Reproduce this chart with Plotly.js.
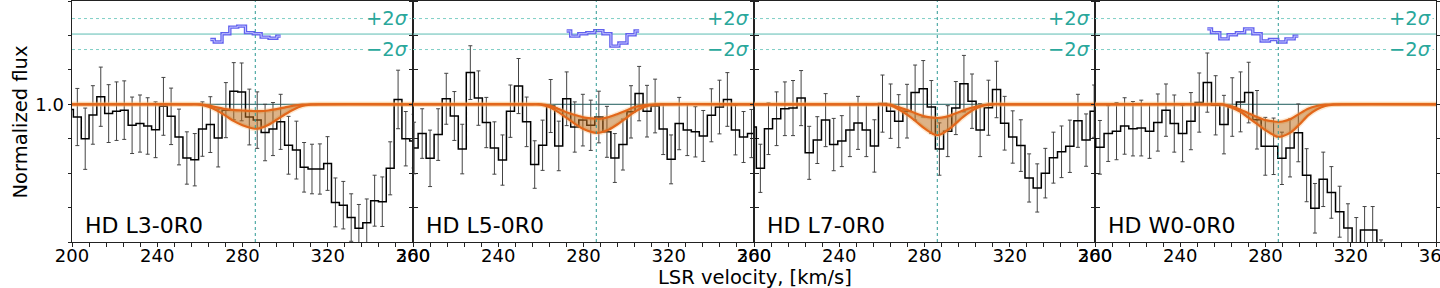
<!DOCTYPE html>
<html><head><meta charset="utf-8">
<script src="https://cdn.plot.ly/plotly-3.0.1.min.js"></script>
<style>html,body{margin:0;padding:0;background:#fff}#chart{width:1440px;height:288px}</style>
</head><body><div id="chart"></div>
<script>
// ---------------- data ----------------
const panelNames = ['HD L3-0R0', 'HD L5-0R0', 'HD L7-0R0', 'HD W0-0R0'];

const vel1 = [198.8, 202.5, 206.2, 209.8, 213.5, 217.2, 220.9, 224.5, 228.2, 231.9, 235.5, 239.2, 242.9, 246.5, 250.2, 253.9, 257.6, 261.2, 264.9, 268.6, 272.2, 275.9, 279.6, 283.2, 286.9, 290.6, 294.3, 297.9, 301.6, 305.3, 308.9, 312.6, 316.3, 319.9, 323.6, 327.3, 331.0, 334.6, 338.3, 342.0, 345.6, 349.3, 353.0, 356.6, 360.3];
const flux1 = [0.985, 0.963, 0.900, 0.969, 1.022, 0.973, 0.980, 0.983, 0.939, 0.944, 0.937, 0.926, 0.994, 0.965, 0.905, 0.844, 0.839, 0.928, 0.941, 0.902, 0.983, 1.038, 1.036, 0.963, 0.954, 0.918, 0.928, 0.949, 0.881, 0.867, 0.817, 0.812, 0.812, 0.828, 0.715, 0.707, 0.671, 0.640, 0.656, 0.720, 0.717, 0.814, 1.014, 0.900, 0.893];
const err1 = [0.083, 0.083, 0.089, 0.085, 0.086, 0.084, 0.085, 0.085, 0.082, 0.083, 0.082, 0.081, 0.084, 0.082, 0.081, 0.076, 0.076, 0.079, 0.081, 0.084, 0.080, 0.083, 0.084, 0.081, 0.082, 0.082, 0.077, 0.080, 0.084, 0.084, 0.072, 0.072, 0.073, 0.078, 0.071, 0.069, 0.069, 0.069, 0.069, 0.074, 0.072, 0.077, 0.085, 0.079, 0.078];

const vel2 = [200.5, 204.3, 208.0, 211.8, 215.6, 219.4, 223.1, 226.9, 230.7, 234.4, 238.2, 242.0, 245.7, 249.5, 253.3, 257.1, 260.8, 264.6, 268.4, 272.1, 275.9, 279.7, 283.4, 287.2, 291.0, 294.7, 298.5, 302.3, 306.1, 309.8, 313.6, 317.4, 321.1, 324.9, 328.7, 332.5, 336.2, 340.0, 343.8, 347.5, 351.3, 355.1, 358.8, 362.6];
const flux2 = [0.873, 0.915, 0.843, 0.912, 1.016, 0.966, 0.870, 1.092, 1.018, 0.947, 0.873, 0.838, 0.980, 1.053, 0.949, 0.825, 0.881, 0.995, 0.879, 1.016, 0.934, 0.954, 0.939, 0.963, 0.920, 0.844, 0.883, 0.978, 1.031, 0.980, 0.995, 0.928, 0.840, 0.944, 0.925, 0.920, 0.908, 0.968, 0.992, 1.014, 0.925, 0.905, 0.915, 0.915];
const err2 = [0.075, 0.072, 0.082, 0.075, 0.074, 0.071, 0.072, 0.078, 0.079, 0.073, 0.076, 0.073, 0.076, 0.080, 0.072, 0.069, 0.073, 0.077, 0.072, 0.078, 0.073, 0.075, 0.073, 0.075, 0.074, 0.071, 0.074, 0.076, 0.079, 0.075, 0.078, 0.074, 0.071, 0.076, 0.074, 0.073, 0.074, 0.077, 0.078, 0.078, 0.072, 0.074, 0.070, 0.072];

const vel3 = [199.2, 203.0, 206.8, 210.6, 214.5, 218.3, 222.1, 225.9, 229.7, 233.6, 237.4, 241.2, 245.0, 248.8, 252.7, 256.5, 260.3, 264.1, 267.9, 271.8, 275.6, 279.4, 283.2, 287.0, 290.9, 294.7, 298.5, 302.3, 306.1, 310.0, 313.8, 317.6, 321.4, 325.2, 329.1, 332.9, 336.7, 340.5, 344.3, 348.2, 352.0, 355.8, 359.6];
const flux3 = [0.934, 0.814, 0.929, 0.958, 0.987, 0.989, 1.018, 0.859, 0.896, 0.954, 0.883, 0.893, 0.925, 0.946, 0.925, 0.879, 1.002, 0.980, 0.951, 0.980, 1.034, 1.045, 0.992, 0.870, 0.922, 0.989, 1.060, 1.009, 0.925, 0.990, 1.043, 0.945, 0.905, 0.880, 0.786, 0.757, 0.800, 0.845, 0.862, 0.878, 0.952, 0.896, 0.980];
const err3 = [0.075, 0.070, 0.075, 0.078, 0.078, 0.080, 0.080, 0.077, 0.068, 0.077, 0.076, 0.074, 0.077, 0.077, 0.077, 0.076, 0.083, 0.079, 0.077, 0.078, 0.080, 0.082, 0.077, 0.076, 0.074, 0.077, 0.082, 0.079, 0.077, 0.080, 0.082, 0.078, 0.076, 0.075, 0.070, 0.070, 0.072, 0.074, 0.075, 0.076, 0.077, 0.076, 0.076];

const vel4 = [198.4, 202.3, 206.2, 210.1, 213.9, 217.8, 221.7, 225.6, 229.5, 233.3, 237.2, 241.1, 245.0, 248.9, 252.7, 256.6, 260.5, 264.4, 268.3, 272.1, 276.0, 279.9, 283.8, 287.7, 291.5, 295.4, 299.3, 303.2, 307.1, 310.9, 314.8, 318.7, 322.6, 326.5, 330.3, 334.2, 338.1];
const flux4 = [0.900, 0.875, 0.915, 0.922, 0.937, 0.929, 0.931, 0.922, 0.947, 0.983, 0.944, 0.915, 0.951, 1.005, 1.063, 0.997, 0.941, 0.992, 1.007, 1.034, 0.955, 0.878, 0.878, 0.843, 0.873, 0.917, 0.794, 0.698, 0.782, 0.744, 0.688, 0.641, 0.598, 0.635, 0.635, 0.540, 0.500];
const err4 = [0.080, 0.078, 0.081, 0.083, 0.082, 0.079, 0.081, 0.079, 0.083, 0.076, 0.083, 0.082, 0.083, 0.086, 0.086, 0.086, 0.085, 0.085, 0.087, 0.088, 0.085, 0.084, 0.082, 0.076, 0.084, 0.084, 0.077, 0.072, 0.079, 0.075, 0.074, 0.070, 0.073, 0.068, 0.068, 0.066, 0.060];

// model band (upper / lower envelope of absorption profiles)
const modelVel = [200, 256, 260, 264, 268, 272, 276, 280, 284, 286, 288, 292, 296, 300, 304, 308, 312, 316, 360];
const modelLo1 = [1, 1, 0.999, 0.993, 0.982, 0.967, 0.951, 0.939, 0.931, 0.929, 0.930, 0.940, 0.955, 0.971, 0.985, 0.995, 0.999, 1, 1];
const modelHi1 = [1, 1, 1, 0.997, 0.991, 0.986, 0.983, 0.982, 0.981, 0.980, 0.980, 0.982, 0.986, 0.991, 0.996, 0.999, 1, 1, 1];
const modelLo2 = [1, 1, 0.999, 0.992, 0.978, 0.961, 0.943, 0.928, 0.919, 0.917, 0.918, 0.927, 0.942, 0.960, 0.978, 0.991, 0.998, 1, 1];
const modelHi2 = [1, 1, 1, 0.996, 0.987, 0.977, 0.969, 0.962, 0.959, 0.958, 0.958, 0.963, 0.972, 0.982, 0.992, 0.997, 0.999, 1, 1];
const modelLo3 = [1, 1, 1, 0.997, 0.985, 0.969, 0.950, 0.930, 0.914, 0.910, 0.914, 0.930, 0.952, 0.972, 0.988, 0.997, 1, 1, 1];
const modelHi3 = [1, 1, 1, 0.999, 0.991, 0.983, 0.973, 0.965, 0.961, 0.960, 0.961, 0.967, 0.977, 0.986, 0.993, 0.998, 1, 1, 1];
const modelLo4 = [1, 1, 0.999, 0.991, 0.979, 0.961, 0.943, 0.925, 0.910, 0.905, 0.907, 0.919, 0.942, 0.968, 0.985, 0.995, 0.999, 1, 1];
const modelHi4 = [1, 1, 1, 0.994, 0.985, 0.974, 0.963, 0.954, 0.950, 0.949, 0.950, 0.958, 0.973, 0.987, 0.995, 0.999, 1, 1, 1];

// residuals (offset, drawn at top)
const resVel1 = [264.9, 268.6, 272.2, 275.9, 279.6, 283.2, 286.9, 290.6, 294.3, 297.9];
const res1 = [1.188, 1.181, 1.205, 1.224, 1.227, 1.208, 1.205, 1.195, 1.192, 1.198];
const resVel2 = [272.1, 275.9, 279.7, 283.4, 287.2, 291.0, 294.7, 298.5, 302.3, 306.1];
const res2 = [1.213, 1.198, 1.205, 1.208, 1.214, 1.205, 1.169, 1.178, 1.202, 1.213];
const resVel3 = [];
const res3 = [];
const resVel4 = [252.7, 256.6, 260.5, 264.4, 268.3, 272.1, 276.0, 279.9, 283.8, 287.7, 291.5, 295.4];
const res4 = [1.219, 1.208, 1.190, 1.202, 1.208, 1.219, 1.205, 1.184, 1.188, 1.181, 1.190, 1.198];

const sigmaLevels = [1.249, 1.204, 1.159];
const sigmaLabels = ['+2<i>σ</i>', '', '−2<i>σ</i>'];
const centroidVel = 286;

const xRange = [200, 360];
const yRange = [0.6, 1.3];
const xTickVals = [200, 208, 216, 224, 232, 240, 248, 256, 264, 272, 280, 288, 296, 304, 312, 320, 328, 336, 344, 352, 360];
const xTickText = xTickVals.map(v => (v % 40 === 0 ? String(v) : ''));
const yTickVals = [0.6, 0.7, 0.8, 0.9, 1.0, 1.1, 1.2, 1.3];
const yTickText = ['', '', '', '', '1.0', '', '', ''];

// ---------------- build ----------------
const panels = [
  {name: panelNames[0], v: vel1, f: flux1, e: err1, lo: modelLo1, hi: modelHi1, rv: resVel1, r: res1},
  {name: panelNames[1], v: vel2, f: flux2, e: err2, lo: modelLo2, hi: modelHi2, rv: resVel2, r: res2},
  {name: panelNames[2], v: vel3, f: flux3, e: err3, lo: modelLo3, hi: modelHi3, rv: resVel3, r: res3},
  {name: panelNames[3], v: vel4, f: flux4, e: err4, lo: modelLo4, hi: modelHi4, rv: resVel4, r: res4}
];

const FONT = 'DejaVu Sans, Liberation Sans, sans-serif';
const traces = [];
const shapes = [];
const annotations = [];
const layout = {
  width: 1440, height: 288,
  margin: {l: 72, r: 4, t: 1, b: 46},
  paper_bgcolor: '#fff', plot_bgcolor: '#fff',
  showlegend: false,
  font: {family: FONT, color: '#000'},
  shapes: shapes, annotations: annotations
};

const ORANGE = '#e2671b';
const teal = '#2aa79b';

panels.forEach((p, i) => {
  const n = i === 0 ? '' : String(i + 1);
  const xa = 'x' + n, ya = 'y' + n;
  const base = {type: 'scatter', mode: 'lines', xaxis: xa, yaxis: ya, hoverinfo: 'skip'};

  // continuum reference line
  traces.push(Object.assign({}, base, {x: [modelVel[0], modelVel[modelVel.length - 1]], y: [1, 1],
    line: {color: '#1d5b5b', width: 1}}));

  // data histogram with error bars
  traces.push(Object.assign({}, base, {x: p.v, y: p.f,
    line: {color: '#000', width: 1.5, shape: 'hvh'},
    error_y: {type: 'data', array: p.e, visible: true, color: '#444', thickness: 1, width: 2}}));

  // halo of model lines
  traces.push(Object.assign({}, base, {x: modelVel, y: p.hi,
    line: {color: 'rgba(250,180,100,0.3)', width: 5, shape: 'spline', smoothing: 0.8}}));
  traces.push(Object.assign({}, base, {x: modelVel, y: p.lo,
    line: {color: 'rgba(250,180,100,0.3)', width: 5, shape: 'spline', smoothing: 0.8}}));

  // model band
  traces.push(Object.assign({}, base, {x: modelVel, y: p.hi,
    line: {color: ORANGE, width: 2.2, shape: 'spline', smoothing: 0.8}}));
  traces.push(Object.assign({}, base, {x: modelVel, y: p.lo, fill: 'tonexty',
    fillcolor: 'rgba(189,109,26,0.52)',
    line: {color: ORANGE, width: 2.2, shape: 'spline', smoothing: 0.8}}));

  // residuals
  if (p.rv.length) {
    traces.push(Object.assign({}, base, {x: p.rv, y: p.r,
      line: {color: 'rgb(98,98,238)', width: 3.4, shape: 'hvh'}}));
    traces.push(Object.assign({}, base, {x: p.rv, y: p.r,
      line: {color: 'rgb(196,196,255)', width: 1, shape: 'hvh'}}));
  }

  // sigma lines
  sigmaLevels.forEach((lev, j) => {
    shapes.push({type: 'line', xref: xa, yref: ya, x0: xRange[0], x1: xRange[1], y0: lev, y1: lev,
      layer: 'below', line: {color: j === 1 ? '#5cbcb2' : '#7fcfc6', width: 1, dash: j === 1 ? 'solid' : 'dot'}});
    if (sigmaLabels[j]) {
      annotations.push({xref: xa, yref: ya, x: 358.8, y: lev, xanchor: 'right', yanchor: 'middle',
        text: sigmaLabels[j], showarrow: false, bgcolor: '#fff', borderpad: 1,
        font: {family: FONT, size: 19.5, color: teal}});
    }
  });

  // centroid
  shapes.push({type: 'line', xref: xa, yref: ya, x0: centroidVel, x1: centroidVel, y0: yRange[0], y1: yRange[1],
    layer: 'above', line: {color: '#2f9a94', width: 1, dash: 'dot'}});

  // panel label
  annotations.push({xref: xa, yref: ya, x: 205.2, y: 0.649, xanchor: 'left', yanchor: 'middle',
    text: p.name, showarrow: false, font: {family: FONT, size: 22, color: '#000'}});

  layout['xaxis' + n] = {
    domain: [i * 0.25, (i + 1) * 0.25], range: xRange, anchor: ya,
    tickmode: 'array', tickvals: xTickVals, ticktext: xTickText,
    ticks: 'outside', ticklen: 3.5, tickwidth: 1, tickcolor: '#222',
    ticklabelstandoff: -6, ticklabeloverflow: 'allow',
    showline: true, linecolor: '#222', linewidth: 1, mirror: true,
    showgrid: false, zeroline: false, fixedrange: true,
    tickfont: {family: FONT, size: 18, color: '#000'}
  };
  layout['yaxis' + n] = {
    domain: [0, 1], range: yRange, anchor: xa,
    tickmode: 'array', tickvals: yTickVals, ticktext: yTickText,
    ticks: 'outside', ticklen: 3.5, tickwidth: 1, tickcolor: '#222',
    showline: true, linecolor: '#222', linewidth: 1, mirror: 'ticks',
    showgrid: false, zeroline: false, fixedrange: true,
    showticklabels: i === 0,
    tickfont: {family: FONT, size: 18, color: '#000'}
  };
});

// axis titles
annotations.push({xref: 'paper', yref: 'paper', x: -0.0374, y: 0.5, xanchor: 'center', yanchor: 'middle',
  textangle: -90, text: 'Normalized flux', showarrow: false, font: {family: FONT, size: 19.5, color: '#000'}});
annotations.push({xref: 'paper', yref: 'paper', x: 0.5007, y: -0.147, xanchor: 'center', yanchor: 'middle',
  text: 'LSR velocity, [km/s]', showarrow: false, font: {family: FONT, size: 19.5, color: '#000'}});

Plotly.newPlot('chart', traces, layout, {staticPlot: true, displayModeBar: false});
</script>
</body></html>
